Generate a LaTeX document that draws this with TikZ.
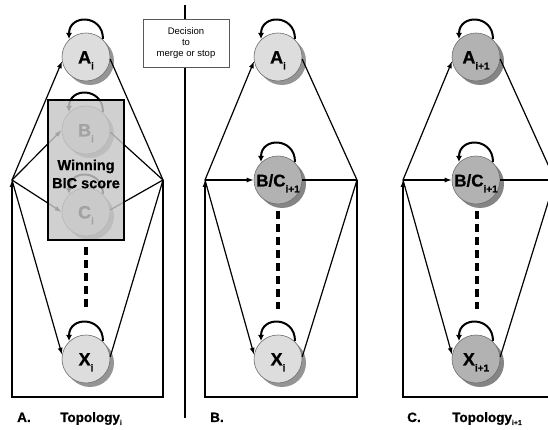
\documentclass[tikz,border=0pt]{standalone}
\usepackage{fontspec}
\setmainfont{Liberation Sans}
\newfontfamily\heavy[FakeBold=0.8]{Liberation Sans Bold}
\usetikzlibrary{shadows,arrows.meta,calc}

\definecolor{lightnode}{HTML}{DDDDDD}
\definecolor{lightshadow}{HTML}{959595}
\definecolor{darknode}{HTML}{B2B2B2}
\definecolor{darkshadow}{HTML}{858585}
\definecolor{nodeedge}{HTML}{6E6E6E}
\definecolor{boxgray}{HTML}{C6C6C6}

% state label: big letter(s) with a lowered index
\newcommand\statelab[3]{{\fontsize{#1}{#1}\selectfont #2}\raisebox{-6pt}{\fontsize{10}{10}\selectfont #3}}
% self transition drawn above a state
\newcommand\selfloopat[1]{\draw[selfloop] ($(#1)+(17,18)$) .. controls +(0,25) and +(0,25) .. ($(#1)+(-17,18)$);}

\begin{document}
\begin{tikzpicture}[x=1pt,y=1pt,
  state/.style={circle, minimum size=48pt, inner sep=0pt, draw=nodeedge,
    line width=0.6pt, text height=13pt, text depth=0pt, font=\heavy},
  lightstate/.style={state, fill=lightnode,
    drop shadow={shadow xshift=4pt, shadow yshift=-4pt, fill=lightshadow, opacity=1}},
  darkstate/.style={state, fill=darknode,
    drop shadow={shadow xshift=4pt, shadow yshift=-4pt, fill=darkshadow, opacity=1}},
  conn/.style={line width=1.2pt, -{Latex[length=7pt,width=5pt]}},
  plain/.style={line width=1.2pt},
  selfloop/.style={line width=2pt, -{Latex[length=6pt,width=6pt]}},
  gap/.style={line width=4pt, dash pattern=on 8pt off 5pt},
  lab/.style={inner sep=0pt, anchor=base west, font=\fontsize{13.5}{13.5}\selectfont\heavy},
  decision/.style={draw=black!65, line width=0.6pt, fill=white, minimum width=86pt,
    minimum height=48pt, align=center, font=\fontsize{9.5}{11}\selectfont}
]
\useasboundingbox (0,0) rectangle (548,430);
\clip (0,0) rectangle (548,430);

% ---------------- panel A : topology i ----------------
\coordinate (L1) at (12,250);
\coordinate (R1) at (163,250);
\coordinate (botA) at (0,33);
\node[lightstate] (A1) at (86,373) {\statelab{18}{A}{i}};
\node[lightstate] (B1) at (86,300) {\statelab{18}{B}{i}};
\node[lightstate] (C1) at (86,218) {\statelab{18}{C}{i}};
\node[lightstate] (X1) at (86,71)  {\statelab{18}{X}{i}};
\selfloopat{A1}
\selfloopat{B1}
\selfloopat{C1}
\selfloopat{X1}
\draw[conn] (L1) -- (A1.190);
\draw[conn] (L1) -- (B1.west);
\draw[conn] (L1) -- (C1.west);
\draw[conn] (L1) -- (X1.170);
\draw[plain] (A1.-5) -- (R1);
\draw[plain] (B1.-5) -- (R1);
\draw[plain] (C1.5) -- (R1);
\draw[plain] (X1.5) -- (R1);
\draw[conn] (R1) -- (R1 |- botA) -- (L1 |- botA) -- (L1);
% translucent box over the competing states
\path[fill=boxgray, fill opacity=0.82] (48,190) rectangle (124,330);
\draw[line width=2.2pt] (48,190) rectangle (124,330);
\node[align=center, font=\fontsize{14.5}{18}\selectfont\heavy] (win) at (86,256) {Winning\\BIC score};
\draw[gap] (86,183) -- (86,123);
\node[lab] (labA) at (17,8) {A.};
\node[lab] (topA) at (60,8) {Topology\raisebox{-3pt}{\fontsize{7}{7}\selectfont i}};

% ---------------- separator and decision ----------------
\coordinate (sepT) at (185,425);
\coordinate (sepB) at (185,12);
\draw[line width=1.2pt] (sepT) -- (sepB);
\node[decision] (dec) at (186,387) {Decision\\to\\merge or stop};

% ---------------- panel B : merged state ----------------
\coordinate (L2) at (205,250);
\coordinate (R2) at (357,250);
\node[lightstate] (A2) at (278,373) {\statelab{18}{A}{i}};
\node[darkstate] (BC2) at (278,250) {\statelab{17}{B/C}{i+1}};
\node[lightstate] (X2) at (278,71)  {\statelab{18}{X}{i}};
\selfloopat{A2}
\selfloopat{BC2}
\selfloopat{X2}
\draw[conn] (L2) -- (A2.190);
\draw[conn] (L2) -- (BC2.west);
\draw[conn] (L2) -- (X2.170);
\draw[plain] (A2.-5) -- (R2);
\draw[plain] (BC2.east) -- (R2);
\draw[plain] (X2.5) -- (R2);
\draw[conn] (R2) -- (R2 |- botA) -- (L2 |- botA) -- (L2);
\draw[gap] (278,219) -- (278,121);
\node[lab] (labB) at (210,8) {B.};

% ---------------- panel C : topology i+1 ----------------
\coordinate (L3) at (403,250);
\coordinate (R3) at (555,250);
\node[darkstate] (A3) at (476,373) {\statelab{18}{A}{i+1}};
\node[darkstate] (BC3) at (476,250) {\statelab{17}{B/C}{i+1}};
\node[darkstate] (X3) at (476,71)  {\statelab{18}{X}{i+1}};
\selfloopat{A3}
\selfloopat{BC3}
\selfloopat{X3}
\draw[conn] (L3) -- (A3.190);
\draw[conn] (L3) -- (BC3.west);
\draw[conn] (L3) -- (X3.170);
\draw[plain] (A3.-5) -- (R3);
\draw[plain] (BC3.east) -- (R3);
\draw[plain] (X3.5) -- (R3);
\draw[conn] (R3) -- (R3 |- botA) -- (L3 |- botA) -- (L3);
\draw[gap] (477,219) -- (477,121);
\node[lab] (labC) at (407,8) {C.};
\node[lab] (topC) at (452,8) {Topology\raisebox{-3pt}{\fontsize{7}{7}\selectfont i+1}};
\end{tikzpicture}
\end{document}
